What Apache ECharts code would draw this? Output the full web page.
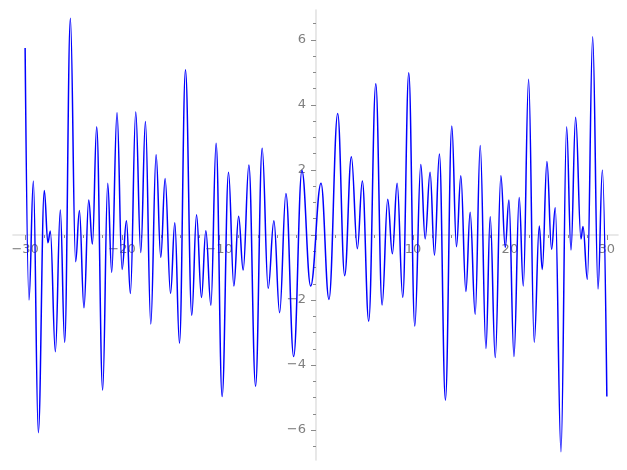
<!DOCTYPE html>
<html>
<head>
<meta charset="utf-8">
<script src="https://cdn.jsdelivr.net/npm/echarts@6/dist/echarts.min.js"></script>
<style>
  html, body { margin: 0; padding: 0; background: #fff; }
  #chart { width: 627px; height: 470px; }
</style>
</head>
<body>
<div id="chart"></div>
<script>
// local extrema of the curve (x, y)
var xs = [
  -30.0, -29.6, -29.15, -28.64, -28.02, -27.65, -27.4, -26.88, -26.37, -25.92,
  -25.33, -24.79, -24.4, -23.93, -23.44, -23.06, -22.62, -22.0, -21.48, -21.07,
  -20.52, -20.0, -19.55, -19.14, -18.59, -18.07, -17.59, -17.04, -16.49, -16.01,
  -15.56, -15.0, -14.56, -14.08, -13.46, -12.81, -12.32, -11.81, -11.36, -10.84,
  -10.3, -9.68, -9.02, -8.47, -7.98, -7.51, -6.92, -6.23, -5.55, -4.93,
  -4.34, -3.75, -3.1, -2.3, -1.45, -0.55,
  0.52, 1.34, 2.24, 2.96, 3.65, 4.27, 4.78, 5.44, 6.17, 6.82,
  7.4, 7.88, 8.37, 8.95, 9.57, 10.19, 10.81, 11.26, 11.77, 12.22,
  12.73, 13.35, 14.01, 14.49, 14.94, 15.46, 15.9, 16.42, 16.94, 17.53,
  17.97, 18.49, 19.07, 19.52, 19.9, 20.42, 20.96, 21.38, 21.93, 22.51,
  23.03, 23.34, 23.82, 24.3, 24.68, 25.27, 25.85, 26.3, 26.78, 27.33,
  27.54, 27.99, 28.54, 29.09, 29.54, 30.0
];
var ys = [
  5.75, -2.0, 1.66, -6.08, 1.37, -0.24, 0.12, -3.59, 0.77, -3.30,
  6.67, -0.82, 0.75, -2.24, 1.08, -0.28, 3.33, -4.77, 1.59, -1.15,
  3.76, -1.06, 0.44, -1.80, 3.78, -0.54, 3.49, -2.74, 2.47, -0.69,
  1.74, -1.80, 0.38, -3.33, 5.08, -2.47, 0.62, -1.92, 0.13, -2.16,
  2.82, -4.97, 1.93, -1.57, 0.58, -1.08, 2.15, -4.65, 2.67, -1.64,
  0.44, -2.39, 1.28, -3.74, 1.98, -1.57,
  1.59, -1.98, 3.74, -1.25, 2.41, -0.42, 1.66, -2.65, 4.65, -2.15,
  1.10, -0.58, 1.59, -1.92, 4.99, -2.80, 2.17, -0.12, 1.93, -0.62,
  2.49, -5.08, 3.35, -0.36, 1.82, -1.74, 0.70, -2.44, 2.75, -3.49,
  0.56, -3.77, 1.82, -0.38, 1.08, -3.74, 1.15, -1.57, 4.79, -3.30,
  0.28, -1.06, 2.26, -0.44, 0.84, -6.67, 3.33, -0.46, 3.62, -0.12,
  0.26, -1.36, 6.10, -1.66, 2.0, -4.97
];

var xMajor = [-30, -20, -10, 0, 10, 20, 30];
var xLabels = [-30, -20, -10, 10, 20, 30];
var xMinor = [-30, -28, -26, -24, -22, -20, -18, -16, -14, -12, -10, -8, -6, -4, -2,
  0, 2, 4, 6, 8, 10, 12, 14, 16, 18, 20, 22, 24, 26, 28, 30];
var yMajor = [-6, -4, -2, 0, 2, 4, 6];
var yLabels = [-6, -4, -2, 2, 4, 6];
var yMinor = [-6.5, -6, -5.5, -5, -4.5, -4, -3.5, -3, -2.5, -2, -1.5, -1, -0.5,
  0, 0.5, 1, 1.5, 2, 2.5, 3, 3.5, 4, 4.5, 5, 5.5, 6, 6.5];

var xMin = -31.25, xMax = 31.15;
var yMin = -6.92, yMax = 6.92;

var points = xs.map(function (x, i) { return [x, ys[i]]; });

var labelStyle = {
  color: '#7f7f7f',
  fontFamily: 'DejaVu Sans',
  fontSize: 13,
  formatter: function (v) { return String(v).replace('-', '\u2212'); }
};

// a plain hidden axis
function hidden(dim, grid) {
  return {
    type: 'value', gridIndex: grid,
    min: dim === 'x' ? xMin : yMin,
    max: dim === 'x' ? xMax : yMax,
    show: false, splitLine: { show: false }
  };
}

// a visible axis drawn along the edge of a helper grid that sits on zero
function shown(dim, grid, ticks, labels, main) {
  return {
    type: 'value', gridIndex: grid,
    position: dim === 'x' ? 'bottom' : 'left',
    min: dim === 'x' ? xMin : yMin,
    max: dim === 'x' ? xMax : yMax,
    splitLine: { show: false },
    axisLine: {
      show: main, onZero: false,
      lineStyle: { color: '#e2e2e2', width: 1.6 }
    },
    axisTick: {
      show: true,
      customValues: ticks,
      length: main ? 5 : 3,
      lineStyle: { color: '#8a8a8a', width: 1 }
    },
    axisLabel: Object.assign({
      show: main,
      customValues: labels,
      margin: dim === 'x' ? 8 : 10
    }, labelStyle)
  };
}

var chart = echarts.init(document.getElementById('chart'));
chart.setOption({
  animation: false,
  backgroundColor: '#ffffff',
  grid: [
    // plot area
    { left: 13, right: 9, top: 10, bottom: 10, containLabel: false, outerBoundsMode: 'none' },
    // x axis sitting on y = 0
    { left: 13, right: 9, top: 10, height: 225, containLabel: false, outerBoundsMode: 'none' },
    // y axis sitting on x = 0
    { left: 316, right: 9, top: 10, bottom: 10, containLabel: false, outerBoundsMode: 'none' }
  ],
  xAxis: [
    hidden('x', 0),
    shown('x', 1, xMajor, xLabels, true),
    shown('x', 1, xMinor, [], false),
    hidden('x', 2)
  ],
  yAxis: [
    hidden('y', 0),
    hidden('y', 1),
    shown('y', 2, yMajor, yLabels, true),
    shown('y', 2, yMinor, [], false)
  ],
  series: [{
    type: 'line',
    data: points,
    xAxisIndex: 0,
    yAxisIndex: 0,
    showSymbol: false,
    smooth: 0.4,
    smoothMonotone: 'x',
    lineStyle: { color: '#0000ff', width: 1.5 },
    z: 3
  }]
});
</script>
</body>
</html>
